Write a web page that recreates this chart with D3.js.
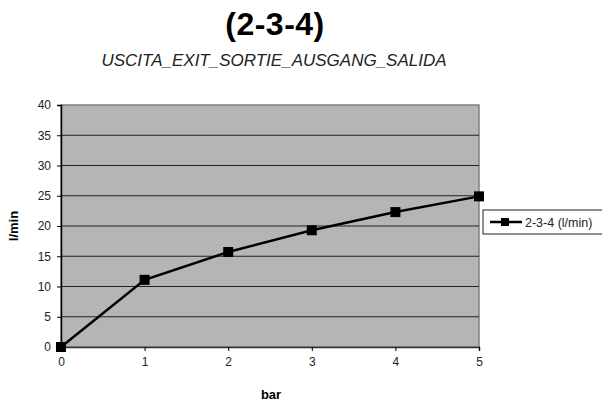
<!DOCTYPE html>
<html>
<head>
<meta charset="utf-8">
<script src="https://cdn.jsdelivr.net/npm/d3@7"></script>
<style>
  body { margin: 0; background: #fff; }
  text { font-family: "Liberation Sans", Arial, sans-serif; }
</style>
</head>
<body>
<svg width="602" height="404"></svg>
<script>
const pressure = [0, 1, 2, 3, 4, 5]
const flow = [0, 11.1, 15.7, 19.3, 22.3, 24.9]
const yTicks = [0, 5, 10, 15, 20, 25, 30, 35, 40]
const seriesName = '2-3-4 (l/min)'

const svg = d3.select('svg')
const margin = {top: 105, left: 61, right: 123, bottom: 57}
const width = +svg.attr('width')
const height = +svg.attr('height')
const innerWidth = width - margin.left - margin.right
const innerHeight = height - margin.top - margin.bottom

const xScale = d3.scaleLinear().domain([0, 5]).range([0, innerWidth])
const yScale = d3.scaleLinear().domain([0, 40]).range([innerHeight, 0])

// titles
svg.append('text')
  .attr('x', 275).attr('y', 35)
  .attr('text-anchor', 'middle')
  .style('font-size', '32px').style('font-weight', 'bold')
  .style('letter-spacing', '0.5px')
  .text('(2-3-4)')
svg.append('text')
  .attr('x', 274).attr('y', 66)
  .attr('text-anchor', 'middle')
  .style('font-size', '17px').style('font-style', 'italic').style('fill', '#222')
  .text('USCITA_EXIT_SORTIE_AUSGANG_SALIDA')

const g = svg.append('g')
  .attr('transform', `translate(${margin.left}, ${margin.top})`)

g.append('rect')
  .attr('width', innerWidth).attr('height', innerHeight)
  .attr('fill', '#b4b6b6')
  .attr('stroke', '#808080').attr('stroke-width', 1.5)

// gridlines
g.selectAll('.grid').data(yTicks.slice(1, -1))
  .enter().append('line')
  .attr('x1', 0).attr('x2', innerWidth)
  .attr('y1', d => yScale(d)).attr('y2', d => yScale(d))
  .attr('stroke', '#222').attr('stroke-width', 1)

const yAxis = d3.axisLeft(yScale).tickValues(yTicks).tickSize(4).tickPadding(6)
const xAxis = d3.axisBottom(xScale).tickValues(pressure).tickFormat(d3.format('d')).tickSize(4).tickPadding(6)

g.append('g').call(yAxis)
  .call(a => a.select('.domain').attr('stroke', '#000').attr('stroke-width', 1.5))
  .selectAll('text').style('font-size', '12px').style('fill', '#222')
g.append('g').attr('transform', `translate(0, ${innerHeight})`).call(xAxis)
  .call(a => a.select('.domain').attr('stroke', '#333').attr('stroke-width', 1.5))
  .selectAll('text').style('font-size', '12px').style('fill', '#222')

// series
const data = pressure.map((p, i) => ({x: p, y: flow[i]}))
const line = d3.line().x(d => xScale(d.x)).y(d => yScale(d.y))
g.append('path').datum(data)
  .attr('d', line).attr('fill', 'none')
  .attr('stroke', '#000').attr('stroke-width', 2.5)
g.selectAll('.pt').data(data)
  .enter().append('rect')
  .attr('x', d => xScale(d.x) - 5).attr('y', d => yScale(d.y) - 5)
  .attr('width', 10).attr('height', 10)
  .attr('fill', '#000')

// axis titles
svg.append('text')
  .attr('transform', 'translate(18, 226) rotate(-90)')
  .attr('text-anchor', 'middle')
  .style('font-size', '13px').style('font-weight', 'bold')
  .text('l/min')
svg.append('text')
  .attr('x', 271).attr('y', 399)
  .attr('text-anchor', 'middle')
  .style('font-size', '13px').style('font-weight', 'bold')
  .text('bar')

// legend
const lg = svg.append('g').attr('transform', 'translate(483, 210)')
lg.append('rect').attr('width', 125).attr('height', 24)
  .attr('fill', '#fff').attr('stroke', '#222').attr('stroke-width', 1)
lg.append('line').attr('x1', 7).attr('x2', 39).attr('y1', 12).attr('y2', 12)
  .attr('stroke', '#000').attr('stroke-width', 2.5)
lg.append('rect').attr('x', 18).attr('y', 8).attr('width', 8).attr('height', 8).attr('fill', '#000')
lg.append('text').attr('x', 42).attr('y', 16.5)
  .style('font-size', '12.5px').style('fill', '#222')
  .text(seriesName)
</script>
</body>
</html>
